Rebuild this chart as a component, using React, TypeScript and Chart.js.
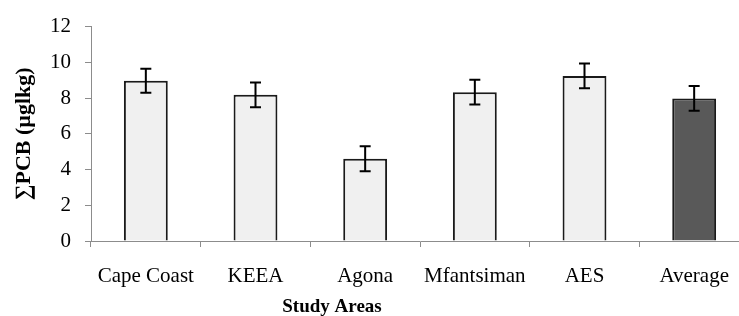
import React, { useEffect, useRef } from "react";
import { Chart, registerables } from "chart.js";

Chart.register(...registerables);

const categories = ["Cape Coast", "KEEA", "Agona", "Mfantsiman", "AES", "Average"];
const values = [8.97, 8.18, 4.6, 8.33, 9.24, 7.98];
const errors = [0.67, 0.69, 0.7, 0.69, 0.69, 0.69];
const barColors = ["#f0f0f0", "#f0f0f0", "#f0f0f0", "#f0f0f0", "#f0f0f0", "#595959"];
const yTicks = [0, 2, 4, 6, 8, 10, 12];
const xTitle = "Study Areas";
const yTitle = "\u2211PCB (\u00b5glkg)";

const FONT = "'Liberation Serif', 'Times New Roman', serif";

const errorBarPlugin = {
  id: "errorBars",
  afterDatasetsDraw(chart: any) {
    const ctx = chart.ctx;
    const yScale = chart.scales.y;
    const meta = chart.getDatasetMeta(0);
    ctx.save();
    ctx.strokeStyle = "#000";
    ctx.lineWidth = 2;
    meta.data.forEach((el: any, i: number) => {
      const x = el.x;
      const top = yScale.getPixelForValue(values[i] + errors[i]);
      const bot = yScale.getPixelForValue(values[i] - errors[i]);
      const cap = 5.5;
      ctx.beginPath();
      ctx.moveTo(x, top);
      ctx.lineTo(x, bot);
      ctx.moveTo(x - cap, top);
      ctx.lineTo(x + cap, top);
      ctx.moveTo(x - cap, bot);
      ctx.lineTo(x + cap, bot);
      ctx.stroke();
    });
    ctx.restore();
  },
};

// x-axis title, placed as in the reference (left of plot centre)
const xTitlePlugin = {
  id: "xTitle",
  afterDraw(chart: any) {
    const ctx = chart.ctx;
    const xs = chart.scales.x;
    ctx.save();
    ctx.fillStyle = "#000";
    ctx.font = `bold 19px ${FONT}`;
    ctx.textAlign = "center";
    ctx.textBaseline = "alphabetic";
    ctx.fillText(xTitle, xs.left + 241, xs.bottom - 4);
    ctx.restore();
  },
};

export default function App() {
  const ref = useRef<HTMLCanvasElement>(null);
  useEffect(() => {
    if (!ref.current) return;
    const chart = new Chart(ref.current, {
      type: "bar",
      data: {
        labels: categories,
        datasets: [
          {
            data: values,
            backgroundColor: barColors,
            borderColor: "#1a1a1a",
            borderWidth: 2,
            categoryPercentage: 1,
            barPercentage: 0.4,
          },
        ],
      },
      options: {
        responsive: false,
        animation: false,
        layout: { padding: { top: 22, right: 1, left: 0, bottom: 0 } },
        plugins: { legend: { display: false }, tooltip: { enabled: false } },
        scales: {
          x: {
            z: 1,
            grid: {
              offset: true,
              drawOnChartArea: false,
              drawTicks: true,
              tickLength: 6,
              color: "#8c8c8c",
            },
            border: { display: true, color: "#8c8c8c", width: 1 },
            ticks: {
              color: "#000",
              padding: 17,
              font: { family: FONT, size: 21 },
              maxRotation: 0,
              autoSkip: false,
            },
            title: { display: false },
            afterFit(scale: any) {
              scale.height = 75;
            },
          },
          y: {
            min: 0,
            max: 12,
            afterBuildTicks(scale: any) {
              scale.ticks = yTicks.map((v) => ({ value: v }));
            },
            grid: {
              drawOnChartArea: false,
              drawTicks: true,
              tickLength: 6,
              color: "#8c8c8c",
            },
            border: { display: true, color: "#8c8c8c", width: 1 },
            ticks: {
              color: "#000",
              padding: 14,
              font: { family: FONT, size: 21 },
            },
            title: {
              display: true,
              text: yTitle,
              color: "#000",
              font: { family: FONT, size: 22, weight: "bold", lineHeight: 1.2 },
              padding: { top: 11, bottom: 0 },
            },
            afterFit(scale: any) {
              scale.width = 91;
            },
          },
        },
      },
      plugins: [errorBarPlugin, xTitlePlugin],
    });
    return () => chart.destroy();
  }, []);
  return (
    <div
      style={{
        position: "absolute",
        left: 0,
        top: 0,
        width: 739,
        height: 316,
        overflow: "hidden",
        background: "#fff",
      }}
    >
      <canvas ref={ref} width={750} height={316} style={{ display: "block" }} />
    </div>
  );
}
